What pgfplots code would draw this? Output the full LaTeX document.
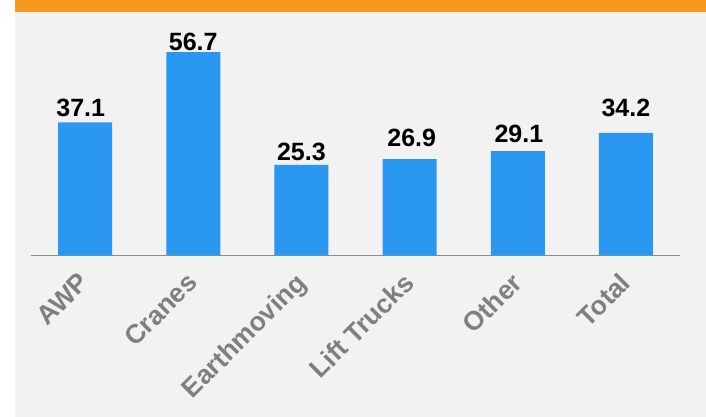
\documentclass[border=0pt]{standalone}
\usepackage{fontspec}
\setmainfont{Liberation Sans}
\usepackage{pgfplots}
\usepackage{pgfplotstable}
\pgfplotsset{compat=1.18}
\definecolor{bgray}{HTML}{F2F2F2}
\definecolor{topor}{HTML}{F7981F}
\definecolor{barblue}{HTML}{2A98F0}
\definecolor{lblgray}{HTML}{7F7F7F}
\definecolor{axgray}{HTML}{8C8C8C}
\pgfplotstableread{
x y
0 37.1
1 56.7
2 25.3
3 26.9
4 29.1
5 34.2
}\bars
\begin{document}
\begin{tikzpicture}
\fill[white] (0pt,0pt) rectangle (706pt,417pt);
\fill[bgray] (15pt,0pt) rectangle (706pt,405pt);
\fill[topor] (15pt,405pt) rectangle (706pt,417pt);
\begin{axis}[
  at={(31pt,161.5pt)}, anchor=south west,
  scale only axis, width=649pt, height=215.2pt,
  xmin=-0.5, xmax=5.5, ymin=0, ymax=60,
  hide y axis,
  axis x line*=bottom,
  x axis line style={-, draw=axgray, line width=1.5pt},
  xtick={0,...,5},
  xticklabels={AWP,Cranes,Earthmoving,Lift Trucks,Other,Total},
  major tick length=0pt,
  xticklabel shift=22pt,
  x tick label style={font=\bfseries\fontsize{26.5}{26.5}\selectfont, text=lblgray, xshift=-7.5pt, yshift=6.5pt, rotate=45, anchor=north east, inner sep=0pt},
  clip=false,
]
\addplot[ybar, bar width=54pt, fill=barblue, draw=none] table[x=x,y=y]{\bars};
\addplot[draw=none, mark=none, nodes near coords, point meta=explicit symbolic,
  every node near coord/.style={anchor=base, inner sep=0pt, font=\bfseries\fontsize{25}{25}\selectfont, text=black}]
  table[x=x, y=y, meta=lab]{
x y lab
-0.04 38.89 37.1
1 57.29 56.7
2 26.43 25.3
3.02 30.33 26.9
4.01 31.56 29.1
5 38.70 34.2
};
\end{axis}
\end{tikzpicture}
\end{document}
